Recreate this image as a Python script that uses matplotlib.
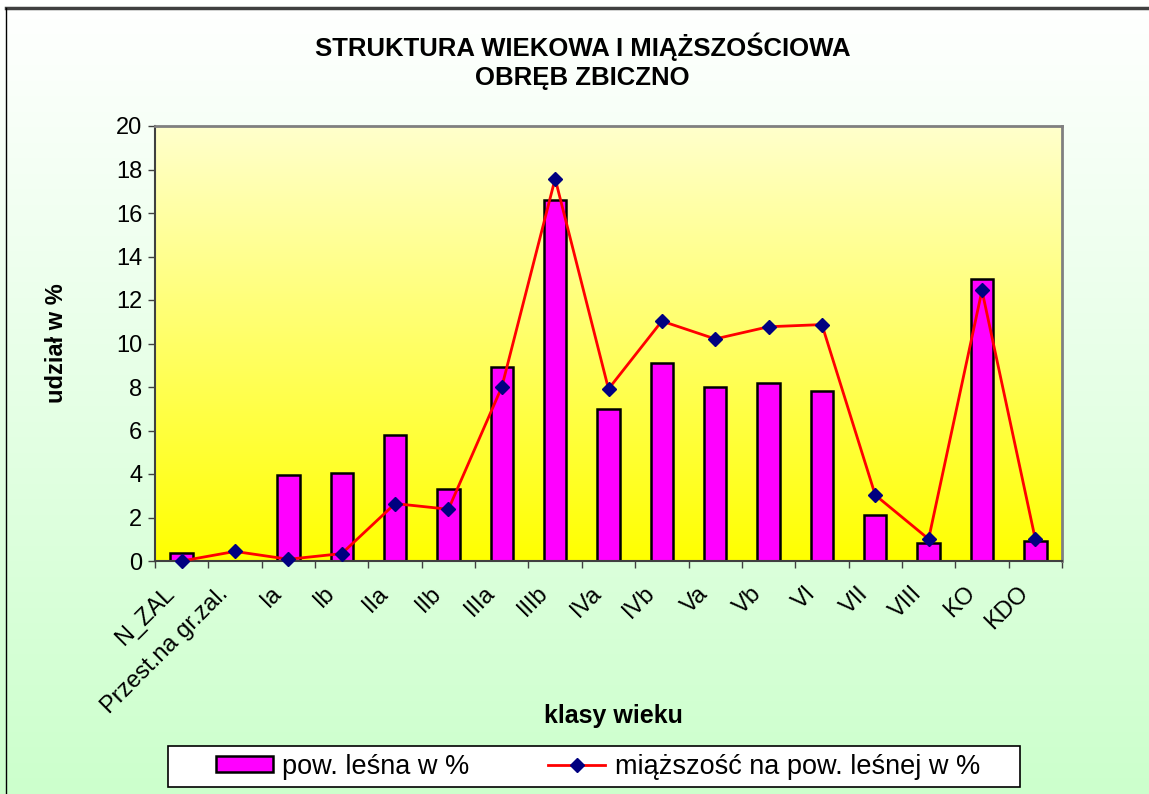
import numpy as np
import matplotlib
matplotlib.use("Agg")
import matplotlib.pyplot as plt
import matplotlib.transforms as mtransforms
from matplotlib.colors import LinearSegmentedColormap
from matplotlib.patches import Rectangle
from matplotlib.lines import Line2D

plt.rcParams["font.family"] = ["Liberation Sans", "DejaVu Sans"]

# ----- data -----
classes = ["N_ZAL", "Przest.na gr.zal.", "Ia", "Ib", "IIa", "IIb", "IIIa", "IIIb",
           "IVa", "IVb", "Va", "Vb", "VI", "VII", "VIII", "KO", "KDO"]
area_pct = [0.37, 0.0, 3.94, 4.06, 5.81, 3.30, 8.92, 16.58,
            6.99, 9.10, 8.02, 8.18, 7.82, 2.10, 0.81, 12.98, 0.90]
volume_pct = [0.0, 0.44, 0.08, 0.34, 2.64, 2.38, 8.0, 17.58,
              7.91, 11.03, 10.21, 10.77, 10.87, 3.03, 1.01, 12.44, 1.0]
y_ticks = [0, 2, 4, 6, 8, 10, 12, 14, 16, 18, 20]

W, H = 1149, 794
fig = plt.figure(figsize=(W / 100, H / 100), dpi=100)

# figure background: white -> light green
bg = fig.add_axes([0, 0, 1, 1], zorder=-10)
bg.imshow(np.linspace(0, 1, 256).reshape(-1, 1), aspect="auto", extent=[0, 1, 0, 1],
          cmap=LinearSegmentedColormap.from_list("bg", ["#FFFFFF", "#CCFFCC"]))
bg.axis("off")

ax = fig.add_axes([155 / W, 1 - 561 / H, (1062 - 155) / W, (561 - 126) / H])
ax.imshow(np.linspace(0, 1, 256).reshape(-1, 1), aspect="auto", extent=[0, 1, 0, 1],
          transform=ax.transAxes, zorder=0,
          cmap=LinearSegmentedColormap.from_list("plot", ["#FFFFCC", "#FFFF00"]))

x = np.arange(len(classes))
bars = ax.bar(x, area_pct, width=0.42, color="#FF00FF", edgecolor="black",
              linewidth=1.8, zorder=2, label="pow. leśna w %")
line, = ax.plot(x, volume_pct, color="#FF0000", lw=2, marker="D", ms=7.5,
                mfc="#000080", mec="#000080", zorder=3, clip_on=False,
                label="miąższość na pow. leśnej w %")

ax.set_xlim(-0.5, len(classes) - 0.5)
ax.set_ylim(0, 20)
ax.set_yticks(y_ticks)
ax.tick_params(axis="y", length=5, width=1, color="#404040", pad=4, labelsize=17)

ax.set_xticks(x)
ax.set_xticks(np.arange(-0.5, len(classes), 1), minor=True)
ax.set_xticklabels(classes, rotation=45, ha="right", va="center",
                   rotation_mode="anchor", fontsize=17)
ax.tick_params(axis="x", which="major", length=0, pad=21)
ax.tick_params(axis="x", which="minor", length=5, width=1, color="#404040")
shift = mtransforms.ScaledTranslation(-10 / 100, 0, fig.dpi_scale_trans)
for lab in ax.get_xticklabels():
    lab.set_transform(lab.get_transform() + shift)

for side in ["left", "bottom"]:
    ax.spines[side].set_color("#404040")
    ax.spines[side].set_linewidth(1.5)
for side in ["top", "right"]:
    ax.spines[side].set_color("#808080")
    ax.spines[side].set_linewidth(2)

ax.set_ylabel("udział w %", fontsize=17, fontweight="bold")
ax.yaxis.set_label_coords(-0.096, 0.5)
ax.set_xlabel("klasy wieku", fontsize=18, fontweight="bold")
ax.xaxis.set_label_coords(0.505, -0.329)

fig.text(0.507, 1 - 61 / H, "STRUKTURA WIEKOWA I MIĄŻSZOŚCIOWA\nOBRĘB ZBICZNO",
         ha="center", va="center", fontsize=18.5, fontweight="bold", linespacing=1.25)

# legend box
fig.add_artist(Rectangle((168 / W, 1 - 787 / H), 852 / W, 41 / H, transform=fig.transFigure,
                         facecolor="white", edgecolor="black", lw=1.2, zorder=1))
fig.legend([bars, line], [bars.get_label(), line.get_label()], loc="center",
           bbox_to_anchor=(598 / W, 1 - 766.5 / H), ncol=2, frameon=False,
           fontsize=19.5, handlelength=2.1, handleheight=0.55, handletextpad=0.35,
           columnspacing=2.9)

# outer frame
fig.add_artist(Line2D([6 / W, 1], [1 - 8 / H, 1 - 8 / H], transform=fig.transFigure,
                      color="#404040", lw=2.5))
fig.add_artist(Line2D([6 / W, 6 / W], [0, 1 - 8 / H], transform=fig.transFigure,
                      color="black", lw=1))

fig.savefig("out.png", dpi=100)
